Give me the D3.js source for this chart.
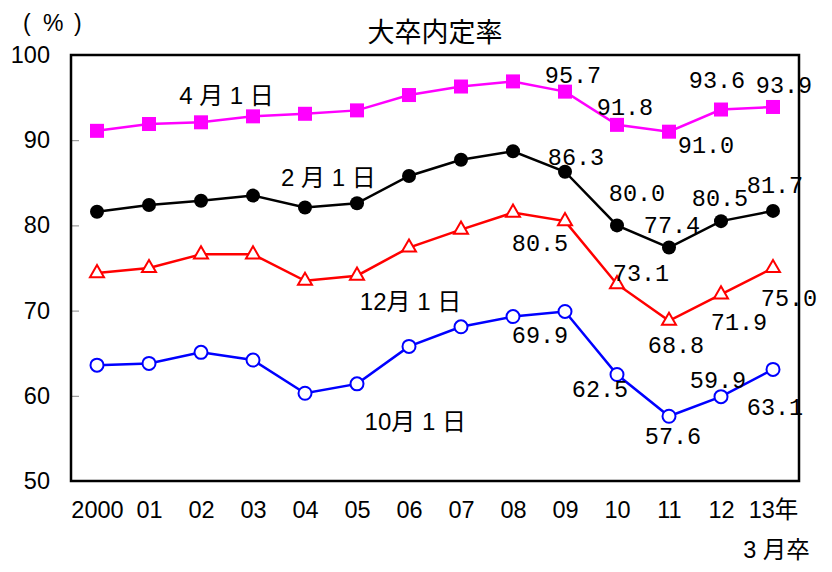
<!DOCTYPE html>
<html>
<head>
<meta charset="utf-8">
<script src="https://cdn.jsdelivr.net/npm/d3@7/dist/d3.min.js"></script>
<style>
  body { margin: 0; background: #fff; }
  text { font-family: "Liberation Sans", "Noto Sans CJK JP", sans-serif; fill: #000; }
  .val { font-family: "Liberation Mono", "Noto Sans CJK JP", monospace; font-size: 23.5px; }
</style>
</head>
<body>
<svg width="832" height="572"></svg>
<script>
// years on the x axis (last one has two lines)
var years = ["2000", "01", "02", "03", "04", "05", "06", "07", "08", "09", "10", "11", "12", "13年\n3 月卒"];
var yTicks = [50, 60, 70, 80, 90, 100];

var apr1 = [91.1, 91.9, 92.1, 92.8, 93.1, 93.5, 95.3, 96.3, 96.9, 95.7, 91.8, 91.0, 93.6, 93.9];
var feb1 = [81.6, 82.4, 82.9, 83.5, 82.1, 82.6, 85.8, 87.7, 88.7, 86.3, 80.0, 77.4, 80.5, 81.7];
var dec1 = [74.4, 75.0, 76.6, 76.6, 73.5, 74.1, 77.4, 79.5, 81.5, 80.5, 73.1, 68.8, 71.9, 75.0];
var oct1 = [63.6, 63.8, 65.1, 64.2, 60.3, 61.4, 65.8, 68.1, 69.3, 69.9, 62.5, 57.6, 59.9, 63.1];

var seriesNames = ["4 月 1 日", "2 月 1 日", "12月 1 日", "10月 1 日"];
var labelled = [9, 10, 11, 12, 13];   // which points carry a value label

(function() {
var svg = d3.select("svg"),
    pLeft = 71, pRight = 799, pTop = 55, pBottom = 481;

var x = d3.scalePoint().domain(years).range([pLeft, pRight]).padding(0.5);
var y = d3.scaleLinear().domain([50, 100]).range([pBottom, pTop]);
// fractional position between categories, for the free-floating series names
var xi = d3.scaleLinear().domain([0, years.length - 1]).range([x(years[0]), x(years[years.length - 1])]);

// title + unit
svg.append("text").attr("x", 435).attr("y", 42).attr("text-anchor", "middle")
    .style("font-family", "'Noto Sans CJK JP'").style("font-size", "27px").text("大卒内定率");
var unit = svg.append("text").attr("y", 31).style("font-size", "23px");
unit.append("tspan").attr("x", 23).text("(");
unit.append("tspan").attr("x", 43).text("%");
unit.append("tspan").attr("x", 74).text(")");

// y axis, ticks pointing inside
var yAxis = svg.append("g").attr("transform", "translate(" + pLeft + ",0)")
    .call(d3.axisLeft(y).tickValues(yTicks).tickSize(-8).tickPadding(21));
yAxis.select(".domain").remove();
yAxis.selectAll("line").attr("stroke", "#888");
yAxis.selectAll("text").style("font-size", "23.5px").style("font-family", "'Liberation Sans'");

// x axis labels
var xAxis = svg.append("g").attr("transform", "translate(0," + pBottom + ")")
    .call(d3.axisBottom(x).tickSize(0).tickPadding(20).tickFormat(""));
xAxis.select(".domain").remove();
xAxis.selectAll(".tick text").attr("dy", null).each(function(d) {
  var t = d3.select(this), lines = d.split("\n");
  t.style("font-size", "23.5px");
  lines.forEach(function(s, k) {
    t.append("tspan").attr("x", k ? 3 : 0).attr("dy", k ? "1.72em" : "0.71em").text(s);
  });
});

var series = [
  { name: seriesNames[0], vals: apr1, color: "#ff00ff", shape: "square",
    pos: [2.49, 94.3],
    off: [[8, -9], [8, -10], [37, 21], [-4, -22], [11, -14]] },
  { name: seriesNames[1], vals: feb1, color: "#000000", shape: "dot",
    pos: [4.45, 84.6],
    off: [[11, -7], [20, -24], [3, -15], [-1, -15], [2, -18]] },
  { name: seriesNames[2], vals: dec1, color: "#ff0000", shape: "tri",
    pos: [6.03, 70.1],
    off: [[-25, 30], [24, -3], [7, 32], [18, 36], [16, 38]] },
  { name: seriesNames[3], vals: oct1, color: "#0000ff", shape: "ring",
    pos: [6.12, 56.0],
    off: [[-25, 32], [-17, 22], [4, 28], [-3, -9], [2, 46]] }
];

var line = d3.line()
    .x(function(d, i) { return x(years[i]); })
    .y(function(d) { return y(d); });

series.forEach(function(s) {
  var g = svg.append("g");
  g.append("path").datum(s.vals)
      .attr("d", line).attr("fill", "none")
      .attr("stroke", s.color).attr("stroke-width", 2.5);

  var pts = g.selectAll(".pt").data(s.vals).enter().append("g")
      .attr("transform", function(d, i) { return "translate(" + x(years[i]) + "," + y(d) + ")"; });

  if (s.shape == "square") {
    pts.append("rect").attr("x", -7).attr("y", -7).attr("width", 14).attr("height", 14)
        .attr("fill", s.color);
  } else if (s.shape == "dot") {
    pts.append("circle").attr("r", 7).attr("fill", s.color);
  } else if (s.shape == "tri") {
    pts.append("path").attr("d", d3.symbol(d3.symbolTriangle, 85))
        .attr("fill", "#fff").attr("stroke", s.color).attr("stroke-width", 2);
  } else {
    pts.append("circle").attr("r", 6.5)
        .attr("fill", "#fff").attr("stroke", s.color).attr("stroke-width", 2);
  }

  // series name
  svg.append("text").attr("x", xi(s.pos[0])).attr("y", y(s.pos[1]))
      .attr("text-anchor", "middle").style("font-size", "24px").text(s.name);
});

// value labels
series.forEach(function(s) {
  labelled.forEach(function(i, k) {
    svg.append("text").attr("class", "val")
        .attr("x", x(years[i]) + s.off[k][0])
        .attr("y", y(s.vals[i]) + s.off[k][1])
        .attr("text-anchor", "middle")
        .text(s.vals[i].toFixed(1));
  });
});

// plot frame on top
svg.append("rect").attr("x", pLeft).attr("y", pTop)
    .attr("width", pRight - pLeft).attr("height", pBottom - pTop)
    .attr("fill", "none").attr("stroke", "#000").attr("stroke-width", 2.5);
})();
</script>
</body>
</html>
